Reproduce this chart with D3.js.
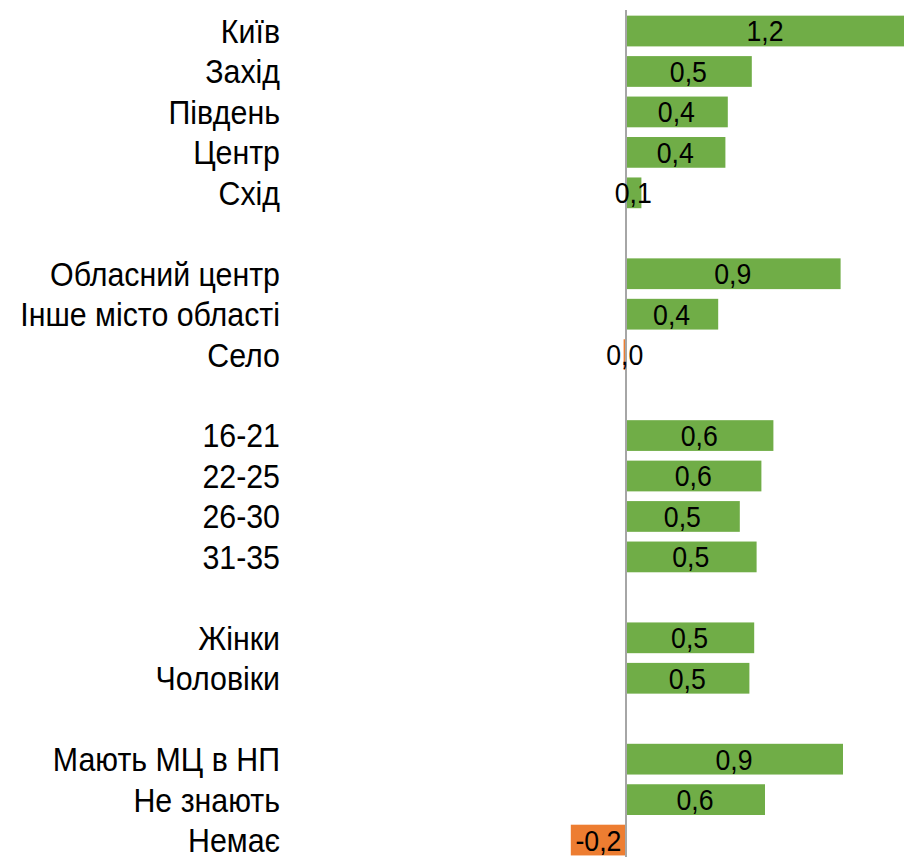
<!DOCTYPE html>
<html lang="uk">
<head>
    <meta charset="UTF-8">
    <title>Bar chart</title>
    <script src="https://d3js.org/d3.v7.min.js"></script>
    <style>
        body { margin: 0; background: #fff; }
        text { font-family: "Liberation Sans", Arial, sans-serif; }
    </style>
</head>
<body>
    <div id="chart"></div>
    <script>
        // groups of categories, separated by a blank row
        const regions = ["Київ", "Захід", "Південь", "Центр", "Схід"];
        const regionValues = [1.2, 0.52, 0.42, 0.41, 0.06];

        const settlements = ["Обласний центр", "Інше місто області", "Село"];
        const settlementValues = [0.89, 0.38, -0.01];

        const ages = ["16-21", "22-25", "26-30", "31-35"];
        const ageValues = [0.61, 0.56, 0.47, 0.54];

        const genders = ["Жінки", "Чоловіки"];
        const genderValues = [0.53, 0.51];

        const places = ["Мають МЦ в НП", "Не знають", "Немає"];
        const placeValues = [0.9, 0.575, -0.23];

        const groups = [
            [regions, regionValues],
            [settlements, settlementValues],
            [ages, ageValues],
            [genders, genderValues],
            [places, placeValues]
        ];

        // flatten into rows, with a gap key between groups
        const rows = [];
        const keys = [];
        groups.forEach(([cats, vals], gi) => {
            if (gi > 0) keys.push("gap" + gi);
            cats.forEach((c, i) => {
                rows.push({ label: c, value: vals[i] });
                keys.push(c);
            });
        });

        const width = 904, height = 857;
        const zeroX = 626;
        const narrow = 0.92; // condensed look of the original font

        const svg = d3.select("#chart").append("svg")
            .attr("width", width)
            .attr("height", height);

        const x = d3.scaleLinear()
            .domain([0, 1])
            .range([zeroX, zeroX + 240]);

        const y = d3.scaleBand()
            .domain(keys)
            .range([10.8, 860.3])
            .paddingInner(0.24)
            .paddingOuter(0.12);

        const fmt = v => d3.format(".1f")(v).replace(".", ",").replace("−", "-");

        svg.selectAll("rect.bar")
            .data(rows)
            .join("rect")
            .attr("class", "bar")
            .attr("x", d => Math.min(x(0), x(d.value)) + (d.value >= 0 ? 1 : 0))
            .attr("y", d => y(d.label))
            .attr("width", d => Math.abs(x(d.value) - x(0)))
            .attr("height", y.bandwidth())
            .attr("fill", d => d.value >= 0 ? "#70AD47" : "#ED7D31");

        // zero axis
        svg.append("line")
            .attr("x1", zeroX).attr("x2", zeroX)
            .attr("y1", 10).attr("y2", height)
            .attr("stroke", "#A6A6A6")
            .attr("stroke-width", 2);

        // category labels
        svg.selectAll("text.cat")
            .data(rows)
            .join("text")
            .attr("class", "cat")
            .attr("transform", d => `translate(280,${y(d.label) + y.bandwidth() / 2}) scale(${narrow},1)`)
            .attr("dy", "0.36em")
            .attr("text-anchor", "end")
            .attr("font-size", 33)
            .attr("fill", "#000")
            .text(d => d.label);

        // value labels, centred in the bar
        svg.selectAll("text.val")
            .data(rows)
            .join("text")
            .attr("class", "val")
            .attr("transform", d => `translate(${(x(0) + Math.min(x(d.value), width)) / 2},${y(d.label) + y.bandwidth() / 2}) scale(${narrow},1)`)
            .attr("dy", "0.36em")
            .attr("text-anchor", "middle")
            .attr("font-size", 29)
            .attr("fill", "#000")
            .text(d => fmt(d.value));
    </script>
</body>
</html>
